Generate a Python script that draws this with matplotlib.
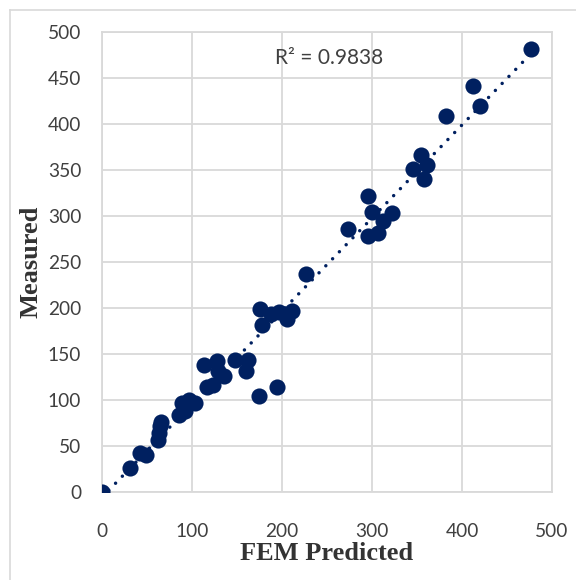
import numpy as np
import matplotlib.pyplot as plt
from matplotlib.lines import Line2D

fem_predicted = [0, 31, 42, 49, 62, 63, 64, 66, 86, 92, 89, 97, 103,
                 113, 117, 123, 128, 129, 136, 148, 162, 160, 174, 194,
                 175, 178, 188, 197, 205, 211, 227, 273, 296, 300, 296,
                 307, 312, 322, 358, 346, 361, 354, 382, 412, 420, 477]
measured = [0, 26, 42, 40, 56, 64, 72, 76, 84, 88, 97, 100, 97,
            138, 114, 116, 142, 131, 126, 144, 143, 131, 104, 114,
            199, 181, 193, 196, 188, 197, 237, 286, 322, 304, 278,
            281, 295, 303, 340, 351, 355, 366, 409, 441, 420, 481]
r2_label = "R\u00b2 = 0.9838"
ticks = [0, 50, 100, 150, 200, 250, 300, 350, 400, 450, 500]
xticks = [0, 100, 200, 300, 400, 500]

navy = '#002060'
grid_grey = '#d9d9d9'
tick_font = 'Lato'

fig = plt.figure(figsize=(5.76, 5.8), dpi=100)
ax = fig.add_axes([102 / 576, 1 - 492 / 580, 450 / 576, 460 / 580])

x = np.array(fem_predicted, dtype=float)
y = np.array(measured, dtype=float)

ax.scatter(x, y, s=135, color=navy, zorder=3, linewidths=0)

# linear trendline
slope, intercept = np.polyfit(x, y, 1)
xs = np.array([0, x.max()])
ax.plot(xs, slope * xs + intercept, color=navy, linewidth=2.5,
        linestyle=(0, (0.01, 2.8)), dash_capstyle='round', zorder=4)

ax.text(192, 472, r2_label, fontsize=15, family=tick_font, color='#404040',
        va='center', ha='left')

ax.set_xlim(0, 500)
ax.set_ylim(0, 500)
ax.set_xticks(xticks)
ax.set_yticks(ticks)
ax.grid(True, color=grid_grey, linewidth=1.3)
ax.set_axisbelow(True)
for side in ['top', 'right', 'left', 'bottom']:
    ax.spines[side].set_color(grid_grey)
    ax.spines[side].set_linewidth(1.3)
ax.tick_params(length=0, labelsize=13.8, labelcolor='#404040')
ax.tick_params(axis='y', pad=15)
ax.tick_params(axis='x', pad=22)
for lab in ax.get_xticklabels() + ax.get_yticklabels():
    lab.set_family(tick_font)

ax.set_xlabel('FEM Predicted', family='Liberation Serif', fontweight='bold',
              fontsize=19, color='#333333', labelpad=2)
ax.set_ylabel('Measured', family='Liberation Serif', fontweight='bold',
              fontsize=19, color='#333333', labelpad=4)

# chart area border (top and left visible)
fig.add_artist(Line2D([10 / 576, 10 / 576], [0, 1 - 9.5 / 580],
                      transform=fig.transFigure, color=grid_grey, linewidth=1.2))
fig.add_artist(Line2D([10 / 576, 1], [1 - 9.5 / 580, 1 - 9.5 / 580],
                      transform=fig.transFigure, color=grid_grey, linewidth=1.2))

fig.savefig('out.png', dpi=100)
